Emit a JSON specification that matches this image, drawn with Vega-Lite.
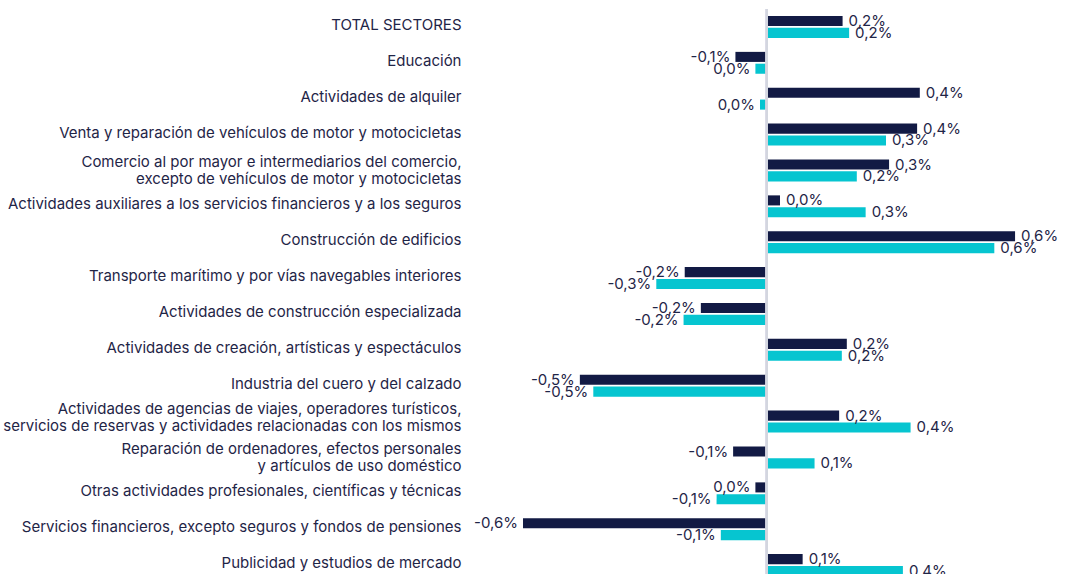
{
  "$schema": "https://vega.github.io/schema/vega-lite/v6.json",
  "width": 590,
  "height": 574,
  "autosize": "none",
  "padding": {"left": 470, "top": 9, "right": 12, "bottom": 0},
  "background": "#ffffff",
  "config": {
    "view": {"stroke": null},
    "locale": {"number": {"decimal": ",", "thousands": ".", "grouping": [3], "currency": ["", " €"], "minus": "-"}}
  },
  "data": {"values": [
    {"sector": "TOTAL SECTORES", "serie": "A", "v": 0.00197},
    {"sector": "TOTAL SECTORES", "serie": "B", "v": 0.00214},
    {"sector": "Educación", "serie": "A", "v": -0.00082},
    {"sector": "Educación", "serie": "B", "v": -0.00030},
    {"sector": "Actividades de alquiler", "serie": "A", "v": 0.00398},
    {"sector": "Actividades de alquiler", "serie": "B", "v": -0.00018},
    {"sector": "Venta y reparación de vehículos de motor y motocicletas", "serie": "A", "v": 0.00391},
    {"sector": "Venta y reparación de vehículos de motor y motocicletas", "serie": "B", "v": 0.00310},
    {"sector": "Comercio al por mayor e intermediarios del comercio,|excepto de vehículos de motor y motocicletas", "serie": "A", "v": 0.00318},
    {"sector": "Comercio al por mayor e intermediarios del comercio,|excepto de vehículos de motor y motocicletas", "serie": "B", "v": 0.00234},
    {"sector": "Actividades auxiliares a los servicios financieros y a los seguros", "serie": "A", "v": 0.00034},
    {"sector": "Actividades auxiliares a los servicios financieros y a los seguros", "serie": "B", "v": 0.00257},
    {"sector": "Construcción de edificios", "serie": "A", "v": 0.00646},
    {"sector": "Construcción de edificios", "serie": "B", "v": 0.00592},
    {"sector": "Transporte marítimo y por vías navegables interiores", "serie": "A", "v": -0.00214},
    {"sector": "Transporte marítimo y por vías navegables interiores", "serie": "B", "v": -0.00288},
    {"sector": "Actividades de construcción especializada", "serie": "A", "v": -0.00172},
    {"sector": "Actividades de construcción especializada", "serie": "B", "v": -0.00217},
    {"sector": "Actividades de creación, artísticas y espectáculos", "serie": "A", "v": 0.00208},
    {"sector": "Actividades de creación, artísticas y espectáculos", "serie": "B", "v": 0.00195},
    {"sector": "Industria del cuero y del calzado", "serie": "A", "v": -0.00487},
    {"sector": "Industria del cuero y del calzado", "serie": "B", "v": -0.00452},
    {"sector": "Actividades de agencias de viajes, operadores turísticos,|servicios de reservas y actividades relacionadas con los mismos", "serie": "A", "v": 0.00188},
    {"sector": "Actividades de agencias de viajes, operadores turísticos,|servicios de reservas y actividades relacionadas con los mismos", "serie": "B", "v": 0.00374},
    {"sector": "Reparación de ordenadores, efectos personales|y artículos de uso doméstico", "serie": "A", "v": -0.00088},
    {"sector": "Reparación de ordenadores, efectos personales|y artículos de uso doméstico", "serie": "B", "v": 0.00124},
    {"sector": "Otras actividades profesionales, científicas y técnicas", "serie": "A", "v": -0.00030},
    {"sector": "Otras actividades profesionales, científicas y técnicas", "serie": "B", "v": -0.00131},
    {"sector": "Servicios financieros, excepto seguros y fondos de pensiones", "serie": "A", "v": -0.00635},
    {"sector": "Servicios financieros, excepto seguros y fondos de pensiones", "serie": "B", "v": -0.00120},
    {"sector": "Publicidad y estudios de mercado", "serie": "A", "v": 0.00093},
    {"sector": "Publicidad y estudios de mercado", "serie": "B", "v": 0.00354}
  ]},
  "layer": [
    {
      "mark": {"type": "bar"},
      "encoding": {
        "y": {"field": "sector", "type": "nominal", "sort": null,
          "scale": {"paddingInner": 0.39, "paddingOuter": 0.195},
          "axis": {"title": null, "domain": false, "ticks": false, "labelFontSize": 15, "labelFont": "Inter", "labelColor": "#1f2547", "labelPadding": 9, "labelLimit": 0, "labelExpr": "split(datum.label, '|')", "labelLineHeight": 17.5,
            "labelOffset": {"condition": [
              {"test": "indexof(datum.label, 'agencias') >= 0", "value": -13},
              {"test": "indexof(datum.label, '|') >= 0", "value": -8.5}
            ], "value": -2}}},
        "yOffset": {"field": "serie", "type": "nominal", "sort": ["A", "B"], "scale": {"paddingInner": 0.15}},
        "x": {"field": "v", "type": "quantitative", "scale": {"domain": [-0.00773, 0.00763], "nice": false, "zero": false}, "axis": null},
        "color": {"field": "serie", "type": "nominal", "scale": {"domain": ["A", "B"], "range": ["#121a44", "#06c5d0"]}, "legend": null}
      }
    },
    {
      "mark": {"type": "text", "align": {"expr": "datum.v < 0 ? 'right' : 'left'"}, "dx": {"expr": "datum.v < 0 ? -5 : 6"}, "baseline": "middle", "fontSize": 15, "font": "Inter", "color": "#1f2547"},
      "encoding": {
        "y": {"field": "sector", "type": "nominal", "sort": null},
        "yOffset": {"field": "serie", "type": "nominal", "sort": ["A", "B"]},
        "x": {"field": "v", "type": "quantitative"},
        "text": {"field": "v", "type": "quantitative", "format": ".1%"}
      }
    },
    {
      "mark": {"type": "rule", "color": "#d3d6df", "strokeWidth": 2},
      "encoding": {"x": {"datum": 0}}
    }
  ]
}
